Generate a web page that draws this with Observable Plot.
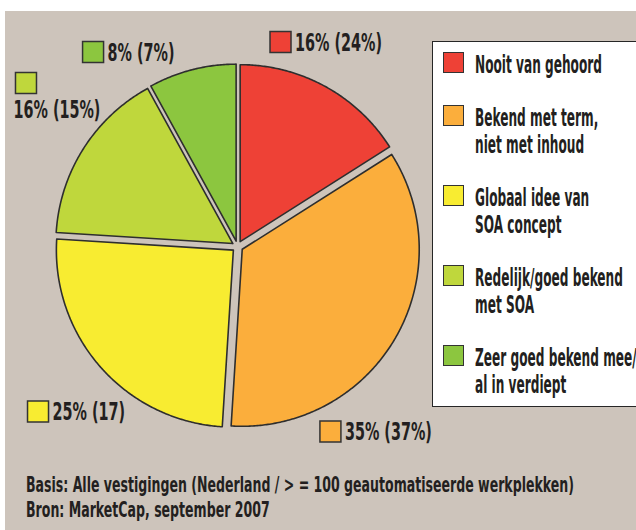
<!DOCTYPE html>
<html><head><meta charset="utf-8">
<script src="https://cdn.jsdelivr.net/npm/d3@7"></script>
<script src="https://cdn.jsdelivr.net/npm/@observablehq/plot@0.6"></script>
<style>
html,body{margin:0;padding:0;background:#fff;}
body{width:636px;height:530px;position:relative;overflow:hidden;font-family:"Liberation Sans Narrow","DejaVu Sans Condensed",sans-serif;color:#231f20;}
#panel{position:absolute;left:5px;top:11px;width:631px;height:519px;background:#cdc4bb;}
#chart{position:absolute;left:0;top:0;}
#legend{position:absolute;left:432px;top:41px;width:230px;height:366px;background:#fff;border:1.5px solid #262626;box-sizing:border-box;padding-top:8.5px;}
.item{position:relative;display:flex;align-items:flex-start;margin-bottom:26px;}
.sw{width:21px;height:21px;box-sizing:border-box;border:1.5px solid #333;margin-left:9.5px;margin-top:1.8px;flex:none;}
.txt{margin-left:11px;font-weight:bold;font-size:24.5px;line-height:27px;}
.line{white-space:nowrap;transform-origin:0 0;width:300px;}
#caption{position:absolute;left:26px;top:472px;font-weight:bold;font-size:21.5px;line-height:25px;}
</style>
</head><body>
<div id="panel"></div>
<div id="chart"></div>
<div id="legend"></div>
<div id="caption"></div>
<script>
// ---- data ----
const categories = ["Nooit van gehoord", "Bekend met term, niet met inhoud", "Globaal idee van SOA concept", "Redelijk/goed bekend met SOA", "Zeer goed bekend mee/ al in verdiept"];
const legendLines = [["Nooit van gehoord"], ["Bekend met term,", "niet met inhoud"], ["Globaal idee van", "SOA concept"], ["Redelijk/goed bekend", "met SOA"], ["Zeer goed bekend mee/", "al in verdiept"]];
const shares = [16, 35, 25, 16, 8];
const sliceLabels = ["16% (24%)", "35% (37%)", "25% (17)", "16% (15%)", "8% (7%)"];
const colors = ["#ee4136", "#fbae3c", "#f8ec31", "#bfd73c", "#8cc63f"];
const captionLines = ["Basis: Alle vestigingen (Nederland / > = 100 geautomatiseerde werkplekken)", "Bron: MarketCap, september 2007"];

// ---- layout (pie unit coordinates for label swatches) ----
const labelAnchors = [[0.243, 1.155], [0.525, -1.045], [-1.127, -0.932], [-1.195, 0.924], [-0.816, 1.099]];
const labelBelow = [false, false, false, true, false];

const W = 430, H = 460, CX = 237, CY = 246, RPX = 177;
const EXPLODE = 5.5 / RPX;

const arcs = d3.pie().sort(null).value(d => d)(shares);
const slicePts = [];
arcs.forEach((p, i) => {
  const mid = (p.startAngle + p.endAngle) / 2;
  const ox = EXPLODE * Math.sin(mid), oy = EXPLODE * Math.cos(mid);
  const key = categories[i];
  slicePts.push({key, x: ox, y: oy});
  const n = Math.max(2, Math.ceil((p.endAngle - p.startAngle) / (Math.PI / 360)));
  for (let k = 0; k <= n; k++) {
    const a = p.startAngle + (p.endAngle - p.startAngle) * k / n;
    slicePts.push({key, x: ox + Math.sin(a), y: oy + Math.cos(a)});
  }
  slicePts.push({key, x: ox, y: oy});
});

const labelData = categories.map((key, i) => ({key, label: sliceLabels[i], x: labelAnchors[i][0], y: labelAnchors[i][1], below: labelBelow[i]}));
const textStyle = {fontFamily: "Liberation Sans Narrow, DejaVu Sans Condensed, sans-serif", fontSize: 24.5, fontWeight: "bold", fill: "#231f20"};

const chart = Plot.plot({
  width: W, height: H, margin: 0,
  x: {domain: [-CX / RPX, (W - CX) / RPX], axis: null},
  y: {domain: [-(H - CY) / RPX, CY / RPX], axis: null},
  color: {domain: categories, range: colors},
  style: {background: "transparent", overflow: "visible"},
  marks: [
    Plot.line(slicePts, {x: "x", y: "y", z: "key", fill: "key", stroke: "#2e2e2e", strokeWidth: 1.6, strokeLinejoin: "round"}),
    Plot.dot(labelData, {x: "x", y: "y", symbol: "square", r: 21 / Math.sqrt(Math.PI), fill: "key", stroke: "#333", strokeWidth: 1.5}),
    Plot.text(labelData.filter(d => !d.below), {x: "x", y: "y", text: "label", textAnchor: "start", dx: 14.5, dy: 1, ...textStyle}),
    Plot.text(labelData.filter(d => d.below), {x: "x", y: "y", text: "label", textAnchor: "start", dx: -12.5, dy: 27, ...textStyle})
  ]
});
document.getElementById("chart").appendChild(chart);

// condense SVG text to match the narrow typeface of the original
const texts = d3.select(chart).selectAll("g[aria-label='text'] text").nodes();
let ref = texts.find(t => t.textContent === "16% (15%)");
const sLab = ref ? 87 / ref.getComputedTextLength() : 0.9;
texts.forEach(t => {
  let tr = t.getAttribute("transform");
  if (!tr) {
    const x = +t.getAttribute("x") || 0, y = +t.getAttribute("y") || 0;
    t.removeAttribute("x"); t.removeAttribute("y");
    tr = `translate(${x},${y})`;
  }
  t.setAttribute("transform", tr + ` scale(${sLab},1)`);
});

// legend
const legend = d3.select("#legend");
categories.forEach((c, i) => {
  const it = legend.append("div").attr("class", "item");
  it.append("div").attr("class", "sw").style("background", colors[i]);
  const tx = it.append("div").attr("class", "txt");
  legendLines[i].forEach(l => tx.append("div").attr("class", "line").append("span").text(l));
});
const refSpan = legend.select(".line span").node();
const sLeg = 127 / refSpan.getBoundingClientRect().width;
legend.selectAll(".line").style("transform", `scaleX(${sLeg})`);

// caption
const cap = d3.select("#caption");
captionLines.forEach(l => cap.append("div").attr("class", "line").append("span").text(l));
const capSpan = cap.select(".line span").node();
const sCap = 548 / capSpan.getBoundingClientRect().width;
cap.selectAll(".line").style("transform", `scaleX(${sCap})`);
</script>
</body></html>
